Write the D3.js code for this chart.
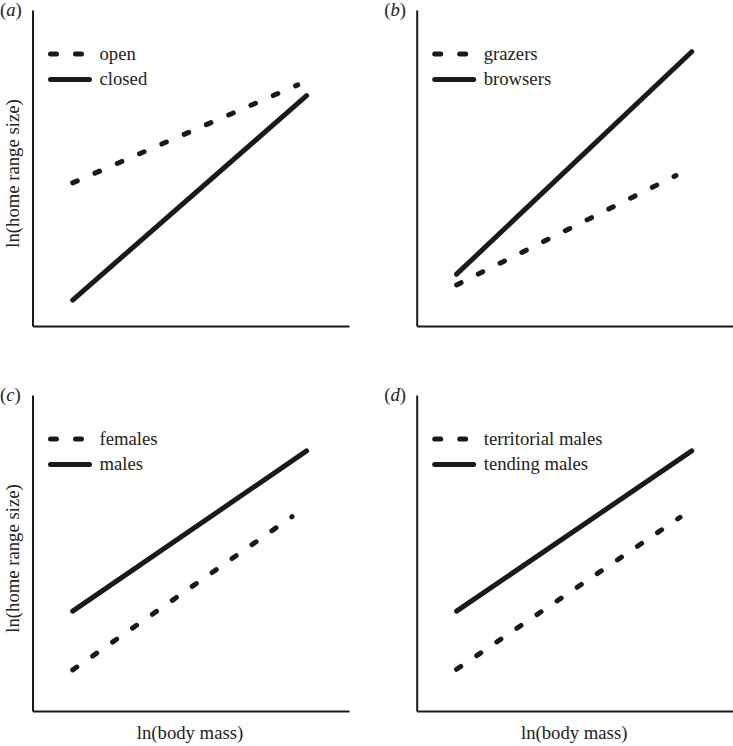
<!DOCTYPE html>
<html>
<head>
<meta charset="utf-8">
<script src="https://cdn.jsdelivr.net/npm/d3@7"></script>
<style>
  html, body { margin: 0; padding: 0; background: #fff; }
  svg { display: block; }
  text { font-family: "Liberation Serif", "Times New Roman", serif; fill: #222; }
</style>
</head>
<body>
<svg id="chart" width="733" height="746"></svg>
<script>
// ---- data ----
const panelLetters = ["a", "b", "c", "d"];
const dashedNames = ["open", "grazers", "females", "territorial males"];
const solidNames = ["closed", "browsers", "males", "tending males"];
// values on an arbitrary 0–10 scale (no ticks shown)
const dashedX = [[1.27, 8.38], [1.26, 8.19], [1.27, 8.20], [1.26, 8.32]];
const dashedY = [[4.53, 7.63], [1.30, 4.76], [1.30, 6.15], [1.32, 6.13]];
const solidX = [[1.27, 8.66], [1.26, 8.69], [1.27, 8.66], [1.26, 8.69]];
const solidY = [[0.82, 7.29], [1.64, 8.68], [3.16, 8.23], [3.16, 8.23]];
const xTitle = "ln(body mass)";
const yTitle = "ln(home range size)";

// ---- layout ----
const svg = d3.select("#chart");
const lefts = [32.5, 416.7];
const tops = [10, 395];
const pw = 316.5, ph = 316;
const ink = "#1a1a1a";
const fs = 18.7;

panelLetters.forEach((letter, i) => {
  const col = i % 2, row = Math.floor(i / 2);
  const x0 = lefts[col], y0 = tops[row];
  const x = d3.scaleLinear().domain([0, 10]).range([x0, x0 + pw]);
  const y = d3.scaleLinear().domain([0, 10]).range([y0 + ph, y0]);
  const g = svg.append("g");

  // axes (no ticks)
  const ax = g.append("g").attr("transform", `translate(0,${y0 + ph})`)
    .call(d3.axisBottom(x).tickValues([]).tickSizeOuter(0));
  const ay = g.append("g").attr("transform", `translate(${x0},0)`)
    .call(d3.axisLeft(y).tickValues([]).tickSizeOuter(0));
  [ax, ay].forEach(a => a.select(".domain").attr("stroke", ink).attr("stroke-width", 2));

  const line = d3.line().x(d => x(d[0])).y(d => y(d[1]));

  // dashed series
  g.append("path")
    .datum(dashedX[i].map((v, k) => [v, dashedY[i][k]]))
    .attr("d", line)
    .attr("fill", "none").attr("stroke", ink).attr("stroke-width", 5)
    .attr("stroke-linecap", "round").attr("stroke-dasharray", "5,19.3");

  // solid series
  g.append("path")
    .datum(solidX[i].map((v, k) => [v, solidY[i][k]]))
    .attr("d", line)
    .attr("fill", "none").attr("stroke", ink).attr("stroke-width", 5)
    .attr("stroke-linecap", "round");

  // legend
  const lx = x0 + 18, ly1 = y0 + 44, ly2 = y0 + 69.5;
  g.append("line").attr("x1", lx).attr("x2", lx + 39).attr("y1", ly1).attr("y2", ly1)
    .attr("stroke", ink).attr("stroke-width", 5).attr("stroke-linecap", "round")
    .attr("stroke-dasharray", "6,19");
  g.append("line").attr("x1", lx).attr("x2", lx + 39).attr("y1", ly2).attr("y2", ly2)
    .attr("stroke", ink).attr("stroke-width", 5).attr("stroke-linecap", "round");
  g.append("text").attr("x", x0 + 67).attr("y", ly1 + 5.5).attr("font-size", fs).text(dashedNames[i]);
  g.append("text").attr("x", x0 + 67).attr("y", ly2 + 5.5).attr("font-size", fs).text(solidNames[i]);

  // panel label
  const pl = g.append("text").attr("x", x0 - 32.5).attr("y", y0 + 6).attr("font-size", fs);
  pl.append("tspan").text("(");
  pl.append("tspan").attr("font-style", "italic").text(letter);
  pl.append("tspan").text(")");

  // y title on left panels
  if (col === 0) {
    g.append("text")
      .attr("transform", `translate(${x0 - 13.5},${y0 + 163.5}) rotate(-90)`)
      .attr("text-anchor", "middle").attr("font-size", fs).text(yTitle);
  }
  // x title on bottom panels
  if (row === 1) {
    g.append("text")
      .attr("x", x0 + 157.5).attr("y", y0 + ph + 28)
      .attr("text-anchor", "middle").attr("font-size", fs).text(xTitle);
  }
});
</script>
</body>
</html>
